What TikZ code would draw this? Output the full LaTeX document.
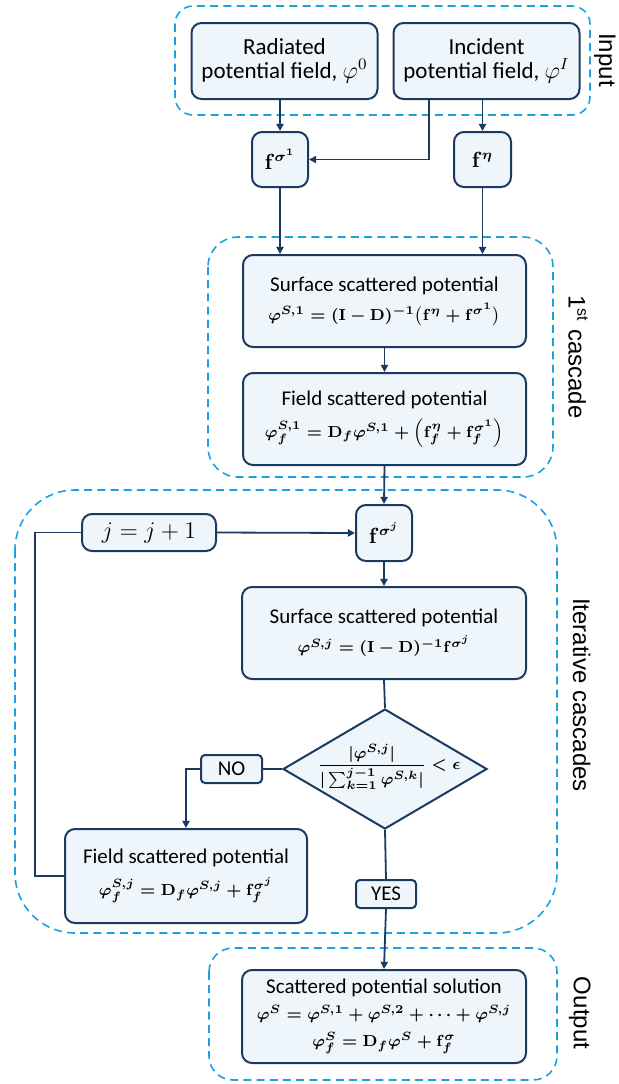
\documentclass[tikz,border=0pt]{standalone}
\usepackage{amsmath}
\usepackage{fontspec}
\setmainfont{Carlito}
\setsansfont{Liberation Sans}
\usetikzlibrary{arrows.meta,shapes.geometric,positioning}

\definecolor{boxline}{RGB}{27,58,95}
\definecolor{boxfill}{RGB}{238,246,252}
\definecolor{groupline}{RGB}{27,161,226}
\newcommand{\eqsize}{\fontsize{8.5}{11}\selectfont}

\begin{document}
\begin{tikzpicture}[x=0.5pt,y=-0.5pt,>={Triangle[length=3.6pt,width=3.6pt]},
  block/.style={draw=boxline,fill=boxfill,line width=1pt,rounded corners=5pt,
    align=center,inner sep=0pt,font=\fontsize{10.5}{13}\selectfont\boldmath},
  plain/.style={font=\fontsize{11.5}{12}\selectfont},
  group/.style={draw=groupline,line width=0.8pt,dash pattern=on 4pt off 2.6pt,rounded corners=#1},
  group/.default=10pt,
  side/.style={rotate=-90,anchor=north,inner sep=0pt,font=\sffamily\fontsize{12}{14}\selectfont},
  link/.style={draw=boxline,line width=0.9pt}]
\useasboundingbox (0,0) rectangle (618,1084);

%dashed groups
\draw[group=9pt] (175,6) rectangle (590,115);
\draw[group=15pt] (208,237) rectangle (553,477);
\draw[group=30pt] (15,490) rectangle (557,933);
\draw[group=12pt] (209,948) rectangle (557,1080);

%group labels
\node[side] (inlbl) at (616,60) {Input};
\node[side] (firstlbl) at (588,357) {1\textsuperscript{st} cascade};
\node[side] (iterlbl) at (591,695) {Iterative cascades};
\node[side] (outlbl) at (591,1013) {Output};

%input
\node[block,plain,minimum width=93pt,minimum height=38pt] (rad) at (284.5,61)
  {Radiated\\potential field, $\varphi^{0}$};
\node[block,plain,minimum width=93pt,minimum height=38pt] (inc) at (486.5,61)
  {Incident\\potential field, $\varphi^{I}$};
\node[block,minimum width=28pt,minimum height=27.5pt] (fsig) at (280,159.5)
  {$\mathbf{f}^{\sigma^1}$};
\node[block,minimum width=28.5pt,minimum height=27.5pt] (feta) at (482.5,159.5)
  {$\mathbf{f}^{\eta}$};

%1st cascade
\node[block,minimum width=141.5pt,minimum height=46pt] (surf1) at (384.5,301)
  {Surface scattered potential\\[1.5pt]
   \eqsize$\varphi^{S,1}=(\mathbf{I}-\mathbf{D})^{-1}\big(\mathbf{f}^{\eta}+\mathbf{f}^{\sigma^1}\big)$};
\node[block,minimum width=141.5pt,minimum height=46pt] (field1) at (384.5,419)
  {Field scattered potential\\[3pt]
   \eqsize$\varphi_f^{S,1}=\mathbf{D}_f\varphi^{S,1}+\Big(\mathbf{f}_f^{\eta}+\mathbf{f}_f^{\sigma^1}\Big)$};

%iterative cascades
\node[block,minimum width=28pt,minimum height=28pt] (fsigj) at (384,533)
  {$\mathbf{f}^{\sigma^j}$};
\node[block,plain,minimum width=67pt,minimum height=18.5pt] (jinc) at (149,532.5) {$j=j+1$};
\node[block,minimum width=142pt,minimum height=46pt] (surfj) at (384,633)
  {Surface scattered potential\\[1.5pt]
   \eqsize$\varphi^{S,j}=(\mathbf{I}-\mathbf{D})^{-1}\mathbf{f}^{\sigma^j}$};
\node[block,diamond,rounded corners=0pt,minimum width=102pt,minimum height=60pt] (conv) at (385,769) {};
\node[font=\eqsize\boldmath,inner sep=0pt] (convtxt) at (389,767)
  {$\dfrac{|\varphi^{S,j}|}{|\sum\nolimits_{k=1}^{j-1}\varphi^{S,k}|}<\epsilon$};
\node[block,rounded corners=2pt,minimum width=30.5pt,minimum height=14pt] (no) at (231.5,769) {NO};
\node[block,minimum width=121pt,minimum height=47pt] (fieldj) at (186,876)
  {Field scattered potential\\[3pt]
   \eqsize$\varphi_f^{S,j}=\mathbf{D}_f\varphi^{S,j}+\mathbf{f}_f^{\sigma^j}$};
\node[block,rounded corners=2pt,minimum width=30pt,minimum height=14pt] (yes) at (386,894) {YES};

%output
\node[block,minimum width=142pt,minimum height=46.5pt] (sol) at (384,1016.5)
  {Scattered potential solution\\[0pt]
   \eqsize$\varphi^{S}=\varphi^{S,1}+\varphi^{S,2}+\cdots+\varphi^{S,j}$\\[0.5pt]
   \eqsize$\varphi_f^{S}=\mathbf{D}_f\varphi^{S}+\mathbf{f}_f^{\sigma}$};

\coordinate (incdrop) at (429,100);
\coordinate (loop) at (35,876);

%connectors
\draw[link,->] (fsig.north |- rad.south) -- (fsig.north);
\draw[link,->] (incdrop) |- (fsig.east);
\draw[link,->] (feta.north |- inc.south) -- (feta.north);
\draw[link,->] (fsig.south) -- (fsig.south |- surf1.north);
\draw[link,->] (feta.south) -- (feta.south |- surf1.north);
\draw[link,->] (surf1.south) -- (field1.north);
\draw[link,->] (field1.south) -- (fsigj.north);
\draw[link,->] (jinc.east) -- (fsigj.west);
\draw[link,->] (fsigj.south) -- (surfj.north);
\draw[link] (surfj.south) -- (conv.north);
\draw[link] (conv.west) -- (no.east);
\draw[link,->] (no.west) -| (fieldj.north);
\draw[link] (fieldj.west) -- (loop) |- (jinc.west);
\draw[link] (conv.south) -- (yes.north);
\draw[link,->] (yes.south) -- (sol.north);

\end{tikzpicture}
\end{document}
